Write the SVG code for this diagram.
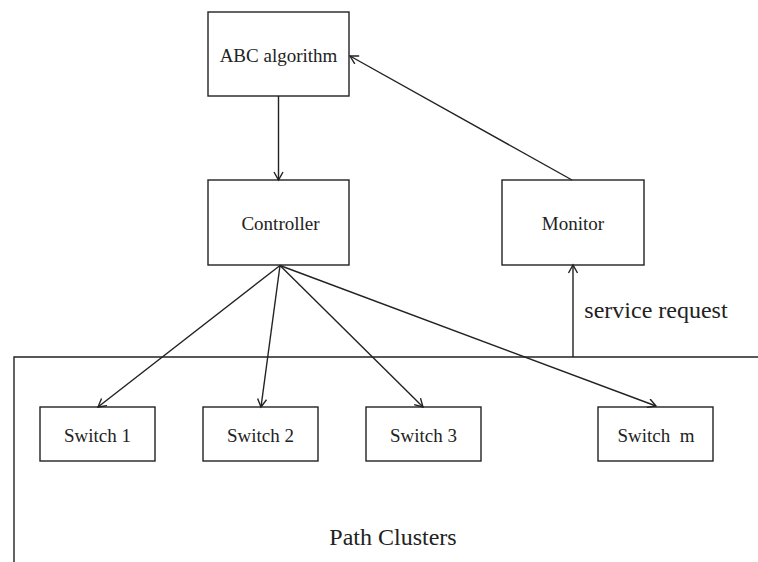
<svg xmlns="http://www.w3.org/2000/svg" width="758" height="562" viewBox="0 0 758 562">
<style>
rect.box{fill:#fff;stroke:#222;stroke-width:1.4}
.lbl{font-family:"Liberation Serif","Times New Roman",serif;fill:#222;text-anchor:middle}
.c line,.c path{stroke:#222;stroke-width:1.4;fill:none}
</style>
<defs>
<marker id="ah" markerWidth="12" markerHeight="12" refX="9" refY="5" orient="auto" markerUnits="userSpaceOnUse">
<path d="M1,0.5 L9,5 L1,9.5" fill="none" stroke="#222" stroke-width="1.4"/>
</marker>
</defs>
<rect width="758" height="562" fill="#fff"/>
<g id="cluster">
<path d="M14,562 L14,357 L758,357" fill="none" stroke="#222" stroke-width="1.4"/>
<text class="lbl" x="393" y="545" font-size="24">Path Clusters</text>
</g>
<g id="abc"><rect class="box" x="208" y="12" width="141" height="84"/><text class="lbl" x="278.5" y="62" font-size="19">ABC algorithm</text></g>
<g id="controller"><rect class="box" x="208" y="180" width="141" height="85"/><text class="lbl" x="280.5" y="230" font-size="19">Controller</text></g>
<g id="monitor"><rect class="box" x="502" y="180" width="142" height="85"/><text class="lbl" x="573" y="230" font-size="19">Monitor</text></g>
<g id="switch1"><rect class="box" x="40" y="407" width="115" height="54"/><text class="lbl" x="97.5" y="442" font-size="19">Switch 1</text></g>
<g id="switch2"><rect class="box" x="203" y="407" width="115" height="54"/><text class="lbl" x="260.5" y="442" font-size="19">Switch 2</text></g>
<g id="switch3"><rect class="box" x="366" y="407" width="115" height="54"/><text class="lbl" x="423.5" y="442" font-size="19">Switch 3</text></g>
<g id="switchm"><rect class="box" x="598" y="407" width="115" height="54"/><text class="lbl" x="656" y="442" font-size="19" xml:space="preserve">Switch  m</text></g>
<g id="connectors" class="c">
<line x1="278.5" y1="96" x2="278.5" y2="180" marker-end="url(#ah)"/>
<line x1="572" y1="180" x2="350" y2="56" marker-end="url(#ah)"/>
<line x1="573" y1="357" x2="573" y2="265" marker-end="url(#ah)"/>
<line x1="280" y1="265.5" x2="98" y2="407" marker-end="url(#ah)"/>
<line x1="280" y1="265.5" x2="261" y2="407" marker-end="url(#ah)"/>
<line x1="280" y1="265.5" x2="423" y2="407" marker-end="url(#ah)"/>
<line x1="280" y1="265.5" x2="656" y2="406" marker-end="url(#ah)"/>
<text class="lbl" x="656" y="318" font-size="24" stroke="none" style="fill:#222">service request</text>
</g>
</svg>
